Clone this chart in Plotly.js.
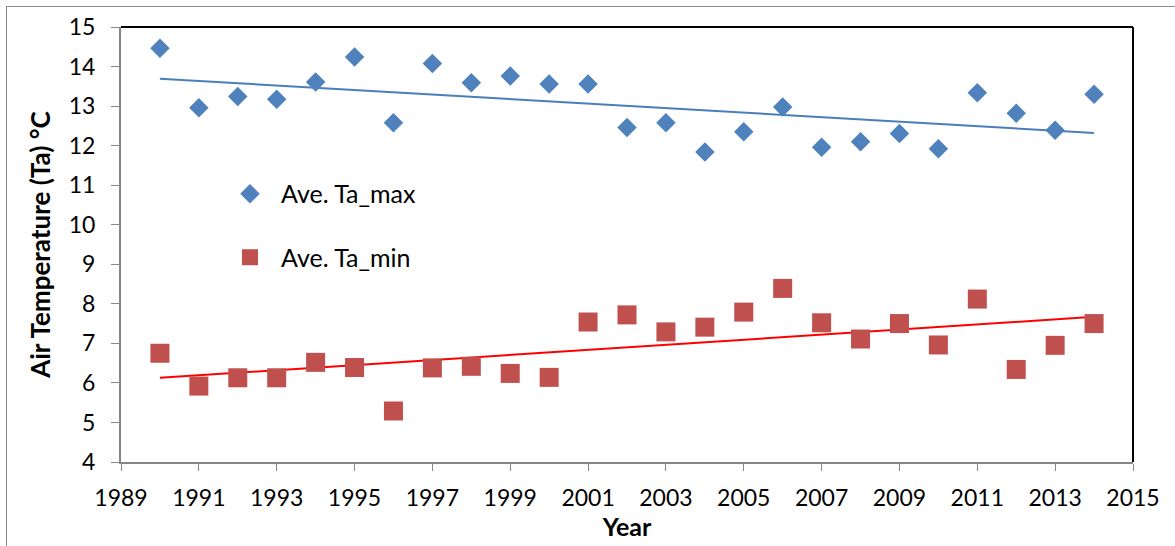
<!DOCTYPE html>
<html>
<head>
<meta charset="utf-8">
<script src="https://cdn.plot.ly/plotly-3.0.1.min.js"></script>
<style>
  html, body { margin: 0; padding: 0; background: #fff; }
  #frame { position: absolute; left: 6px; top: 6px; width: 1175px; height: 546px; border: 1px solid #8c8c8c; box-sizing: border-box; }
  #chart { position: absolute; left: 0; top: 0; width: 1175px; height: 546px; }
</style>
</head>
<body>
<div id="frame"></div>
<div id="chart"></div>
<script>
const years = [1990,1991,1992,1993,1994,1995,1996,1997,1998,1999,2000,2001,2002,2003,2004,2005,2006,2007,2008,2009,2010,2011,2012,2013,2014];
const taMax = [14.46,12.96,13.24,13.17,13.61,14.24,12.58,14.08,13.59,13.76,13.56,13.56,12.46,12.58,11.84,12.35,12.98,11.96,12.10,12.31,11.92,13.34,12.82,12.39,13.30];
const taMin = [6.75,5.92,6.13,6.13,6.52,6.39,5.29,6.38,6.42,6.24,6.14,7.54,7.72,7.29,7.41,7.79,8.39,7.52,7.11,7.50,6.96,8.12,6.34,6.95,7.50];
const trendYears = [1990, 2014];
const trendMax = [13.69, 12.32];
const trendMin = [6.13, 7.67];
const xTicks = [1989,1991,1993,1995,1997,1999,2001,2003,2005,2007,2009,2011,2013,2015];
const yTicks = [4,5,6,7,8,9,10,11,12,13,14,15];

const FONT = "Lato, 'Open Sans', sans-serif";

const traces = [
  {x: trendYears, y: trendMax, mode: 'lines', line: {color: '#4A7EBB', width: 2}, showlegend: false, hoverinfo: 'skip'},
  {x: trendYears, y: trendMin, mode: 'lines', line: {color: '#FF0000', width: 2}, showlegend: false, hoverinfo: 'skip'},
  {x: years, y: taMax, mode: 'markers', name: 'Ave. Ta_max', legendgroup: 'a',
   marker: {symbol: 'diamond', size: 15, color: '#4F81BD'}},
  {x: years, y: taMin, mode: 'markers', name: 'Ave. Ta_min', legendgroup: 'b',
   marker: {symbol: 'square', size: 19, color: '#C0504D'}}
];

const layout = {
  width: 1175, height: 546,
  margin: {l: 121, r: 42, t: 27, b: 84, pad: 0},
  paper_bgcolor: 'rgba(0,0,0,0)',
  plot_bgcolor: '#fff',
  font: {family: FONT, size: 23, color: '#000'},
  showlegend: true,
  legend: {x: 0.0968, y: 0.669, xanchor: 'left', yanchor: 'top', bgcolor: 'rgba(0,0,0,0)',
           itemwidth: 52, traceorder: 'grouped', tracegroupgap: 28,
           font: {family: FONT, size: 25, color: '#000'}},
  xaxis: {
    range: [1989, 2015], tickvals: xTicks, ticktext: xTicks.map(String),
    showgrid: false, zeroline: false, showline: true, linecolor: '#868686', linewidth: 2,
    ticks: 'outside', ticklen: 7, tickcolor: '#868686', tickwidth: 1,
    ticklabelstandoff: 7,
    mirror: false, tickfont: {family: FONT, size: 23},
    title: {text: '<b>Year</b>', font: {family: FONT, size: 25}, standoff: 0}
  },
  yaxis: {
    range: [4, 15], tickvals: yTicks,
    showgrid: false, zeroline: false, showline: true, linecolor: '#868686', linewidth: 2,
    ticks: 'outside', ticklen: 8, tickcolor: '#868686', tickwidth: 1,
    ticklabelstandoff: 11,
    tickfont: {family: FONT, size: 23},
    title: {text: '<b>Air Temperature (Ta) °C</b>', font: {family: FONT, size: 26}, standoff: 11}
  },
  shapes: [
    {type: 'line', xref: 'paper', yref: 'paper', x0: 0, x1: 1, y0: 1, y1: 1, line: {color: '#000', width: 2}},
    {type: 'line', xref: 'paper', yref: 'paper', x0: 1, x1: 1, y0: 0, y1: 1, line: {color: '#000', width: 2}}
  ]
};

Plotly.newPlot('chart', traces, layout, {displayModeBar: false, staticPlot: true});
</script>
</body>
</html>
